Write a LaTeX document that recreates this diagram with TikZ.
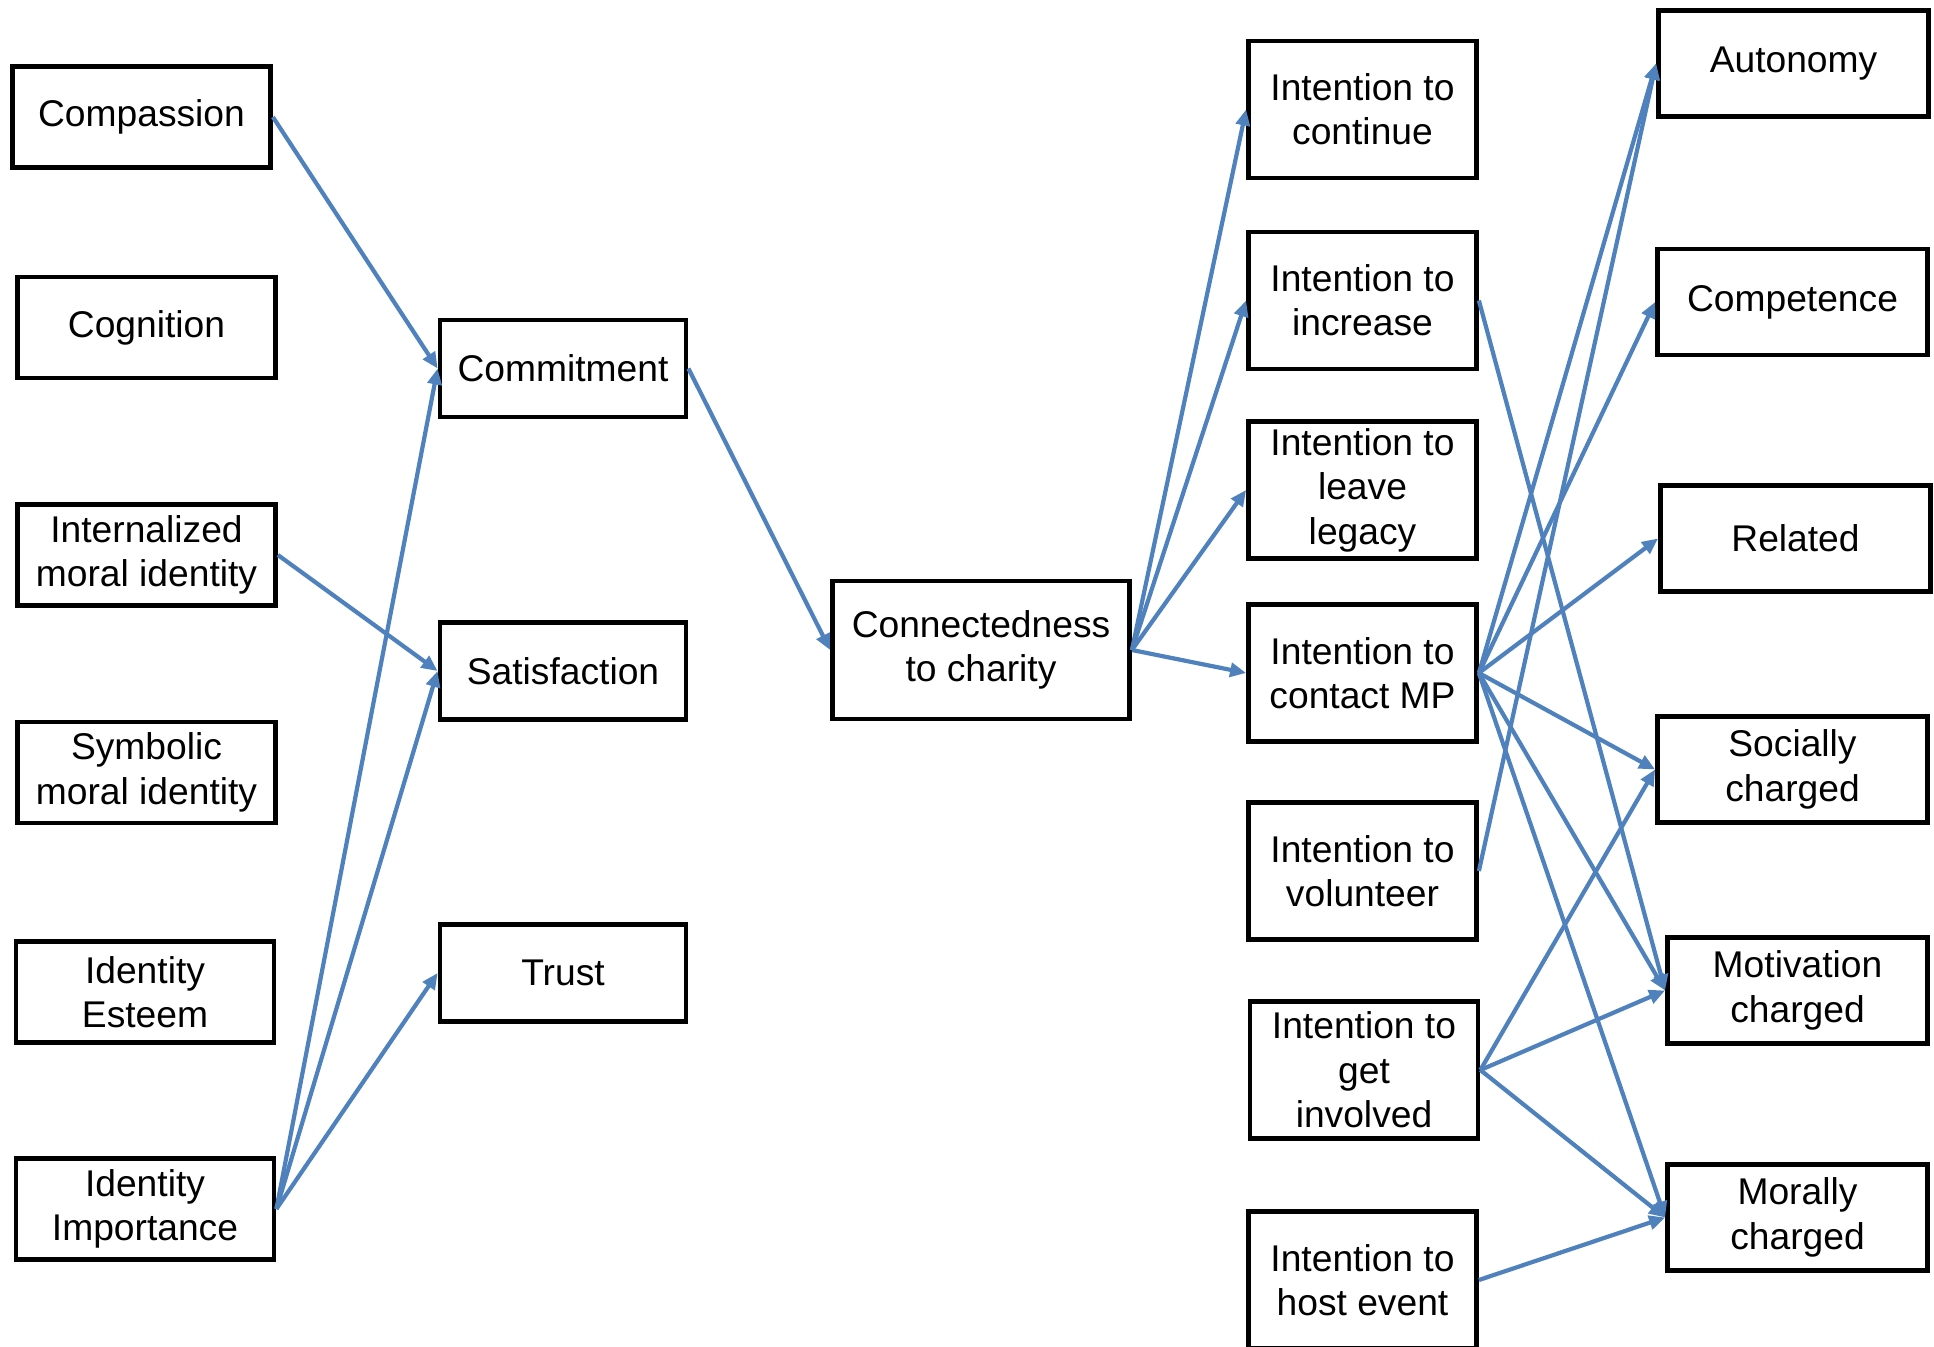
\documentclass[tikz,border=0pt]{standalone}
\usepackage{fontspec}
\setmainfont{Liberation Sans}
\usetikzlibrary{arrows.meta}
\definecolor{linkblue}{HTML}{4F81BD}
\begin{document}
\begin{tikzpicture}[x=0.5pt,y=-0.5pt,
  box/.style={draw=black, line width=2.4pt, fill=white, inner sep=0pt,
    align=center, font=\fontsize{18.6}{22.2}\selectfont},
  leftbox/.style={box, minimum width=129pt, minimum height=50.5pt},
  midbox/.style={box, minimum width=123pt, minimum height=48.5pt},
  intbox/.style={box, minimum width=114pt, minimum height=68.5pt},
  outbox/.style={box, minimum width=135pt, minimum height=53pt},
  outboxn/.style={box, minimum width=130pt, minimum height=53pt},
  link/.style={draw=linkblue, line width=2.1pt, -{Triangle[length=8pt,width=7pt]}},
]
\useasboundingbox (0,0) rectangle (1934,1347);

% antecedents
\node[leftbox] (compassion) at (141.5,117) {Compassion};
\node[leftbox] (cognition)  at (146.5,327.5) {Cognition};
\node[leftbox] (internal)   at (146.5,555)   {Internalized\\moral identity};
\node[leftbox] (symbolic)   at (146.5,772.5) {Symbolic\\moral identity};
\node[leftbox] (esteem)     at (145,992)     {Identity\\Esteem};
\node[leftbox] (importance) at (145,1209)  {Identity\\Importance};

% relationship quality
\node[midbox] (commitment)   at (563,368.5) {Commitment};
\node[midbox] (satisfaction) at (563,671)   {Satisfaction};
\node[midbox] (trust)        at (563,973)   {Trust};

\node[box, minimum width=148.5pt, minimum height=69pt] (connected) at (981,650) {Connectedness\\to charity};

% intentions
\node[intbox] (icontinue)  at (1362.5,109.5)  {Intention to\\continue};
\node[intbox] (iincrease)  at (1362.5,300.5)  {Intention to\\increase};
\node[intbox] (ilegacy)    at (1362.5,490)    {Intention to\\leave\\legacy};
\node[intbox] (icontact)   at (1362.5,673)    {Intention to\\contact MP};
\node[intbox] (ivolunteer) at (1362.5,871)    {Intention to\\volunteer};
\node[intbox] (iinvolved)  at (1364,1070)     {Intention to\\get\\involved};
\node[intbox] (ihost)      at (1362.5,1280)   {Intention to\\host event};

% outcomes
\node[outbox]  (autonomy)   at (1793.5,63.5)  {Autonomy};
\node[outbox]  (competence) at (1792.5,302)   {Competence};
\node[outbox]  (related)    at (1795.5,538.5) {Related};
\node[outbox]  (socially)   at (1792.5,769.5) {Socially\\charged};
\node[outboxn] (motivation) at (1797.5,990.5) {Motivation\\charged};
\node[outboxn] (morally)    at (1797.5,1217.5){Morally\\charged};

% paths
\draw[link] (compassion.east) -- (commitment.west);
\draw[link] (importance.east) -- (commitment.west);
\draw[link] (importance.east) -- (satisfaction.west);
\draw[link] (importance.east) -- (trust.west);
\draw[link] (internal.east)   -- (satisfaction.west);
\draw[link] (commitment.east) -- (connected.west);

\draw[link] (connected.east) -- (icontinue.west);
\draw[link] (connected.east) -- (iincrease.west);
\draw[link] (connected.east) -- (ilegacy.west);
\draw[link] (connected.east) -- (icontact.west);

\draw[link] (icontact.east) -- (autonomy.west);
\draw[link] (icontact.east) -- (competence.west);
\draw[link] (icontact.east) -- (related.west);
\draw[link] (icontact.east) -- (socially.west);
\draw[link] (icontact.east) -- (motivation.west);
\draw[link] (icontact.east) -- (morally.west);
\draw[link] (iincrease.east)  -- (motivation.west);
\draw[link] (ivolunteer.east) -- (autonomy.west);
\draw[link] (iinvolved.east) -- (socially.west);
\draw[link] (iinvolved.east) -- (motivation.west);
\draw[link] (iinvolved.east) -- (morally.west);
\draw[link] (ihost.east) -- (morally.west);
\end{tikzpicture}
\end{document}
